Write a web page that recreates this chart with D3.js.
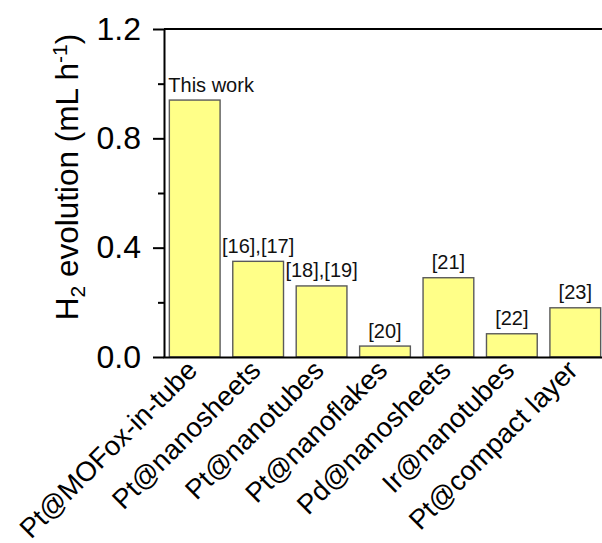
<!DOCTYPE html>
<html>
<head>
<meta charset="utf-8">
<script src="https://cdn.jsdelivr.net/npm/d3@7"></script>
<style>
  html, body { margin: 0; padding: 0; background: #fff; }
  svg { display: block; font-family: "Liberation Sans", Arial, sans-serif; }
</style>
</head>
<body>
<svg id="chart" width="602" height="543"></svg>
<script>
// Catalyst systems compared
const categories = [
  "Pt@MOFox-in-tube", "Pt@nanosheets", "Pt@nanotubes", "Pt@nanoflakes",
  "Pd@nanosheets", "Ir@nanotubes", "Pt@compact layer"
];
// H2 evolution rate (mL h^-1)
const values = [0.94, 0.35, 0.26, 0.04, 0.29, 0.085, 0.18];
// Source annotation above each bar
const refs = ["This work", "[16],[17]", "[18],[19]", "[20]", "[21]", "[22]", "[23]"];
// Y axis ticks
const majorTicks = [0.0, 0.4, 0.8, 1.2];
const minorTicks = [0.2, 0.6, 1.0];

const W = 602, H = 543;
const svg = d3.select("#chart");

const x = d3.scaleBand()
  .domain(categories)
  .range([163, 607])
  .paddingInner(0.2)
  .paddingOuter(0.1);

const y = d3.scaleLinear()
  .domain([0, 1.2])
  .range([357, 29]);

// Bars
svg.append("g")
  .selectAll("rect")
  .data(values)
  .join("rect")
  .attr("x", (d, i) => x(categories[i]))
  .attr("y", d => y(d))
  .attr("width", x.bandwidth())
  .attr("height", d => y(0) - y(d))
  .attr("fill", "#ffff88")
  .attr("stroke", "#5a5a5a")
  .attr("stroke-width", 1.4);

// Annotations above bars
svg.append("g")
  .selectAll("text")
  .data(refs)
  .join("text")
  .attr("x", (d, i) => i === 0 ? x(categories[i]) - 1 : x(categories[i]) + x.bandwidth() / 2)
  .attr("y", (d, i) => y(values[i]) - 8.5)
  .attr("text-anchor", (d, i) => i === 0 ? "start" : "middle")
  .attr("font-size", 20)
  .attr("fill", "#111")
  .text(d => d);

// Top frame line
svg.append("line")
  .attr("x1", 164).attr("x2", W)
  .attr("y1", y(1.2)).attr("y2", y(1.2))
  .attr("stroke", "#000").attr("stroke-width", 2);

// Bottom axis with rotated category labels
const xAxis = svg.append("g")
  .attr("transform", `translate(0,${y(0)})`)
  .call(d3.axisBottom(x).tickSize(0).tickSizeOuter(0));
xAxis.select(".domain").attr("stroke", "#000").attr("stroke-width", 2);
xAxis.selectAll(".tick text")
  .attr("font-size", 27.5)
  .attr("font-family", "Liberation Sans, Arial, sans-serif")
  .attr("fill", "#000")
  .attr("text-anchor", "end")
  .attr("dy", null)
  .attr("y", null)
  .attr("transform", "translate(4,15) rotate(-45)");

// Minor y ticks
const yMinor = svg.append("g")
  .attr("transform", "translate(164,0)")
  .call(d3.axisLeft(y).tickValues(minorTicks).tickSize(6).tickSizeOuter(0).tickFormat(""));
yMinor.select(".domain").remove();
yMinor.selectAll(".tick line").attr("stroke", "#000").attr("stroke-width", 2);

// Major y ticks and axis line
const yAxis = svg.append("g")
  .attr("transform", "translate(164,0)")
  .call(d3.axisLeft(y).tickValues(majorTicks).tickSize(11).tickSizeOuter(0)
    .tickPadding(12).tickFormat(d3.format(".1f")));
yAxis.select(".domain").attr("stroke", "#000").attr("stroke-width", 2);
yAxis.selectAll(".tick line").attr("stroke", "#000").attr("stroke-width", 2);
yAxis.selectAll(".tick text")
  .attr("font-size", 32)
  .attr("font-family", "Liberation Sans, Arial, sans-serif")
  .attr("fill", "#000");

// Y axis title with subscript and superscript
const title = svg.append("text")
  .attr("transform", "translate(78,177) rotate(-90)")
  .attr("text-anchor", "middle")
  .attr("font-size", 31.5)
  .attr("fill", "#000");
title.append("tspan").text("H");
title.append("tspan").attr("font-size", 21).attr("dy", 7).text("2");
title.append("tspan").attr("dy", -7).text(" evolution (mL h");
title.append("tspan").attr("font-size", 21).attr("dy", -11).text("-1");
title.append("tspan").attr("dy", 11).text(")");
</script>
</body>
</html>
